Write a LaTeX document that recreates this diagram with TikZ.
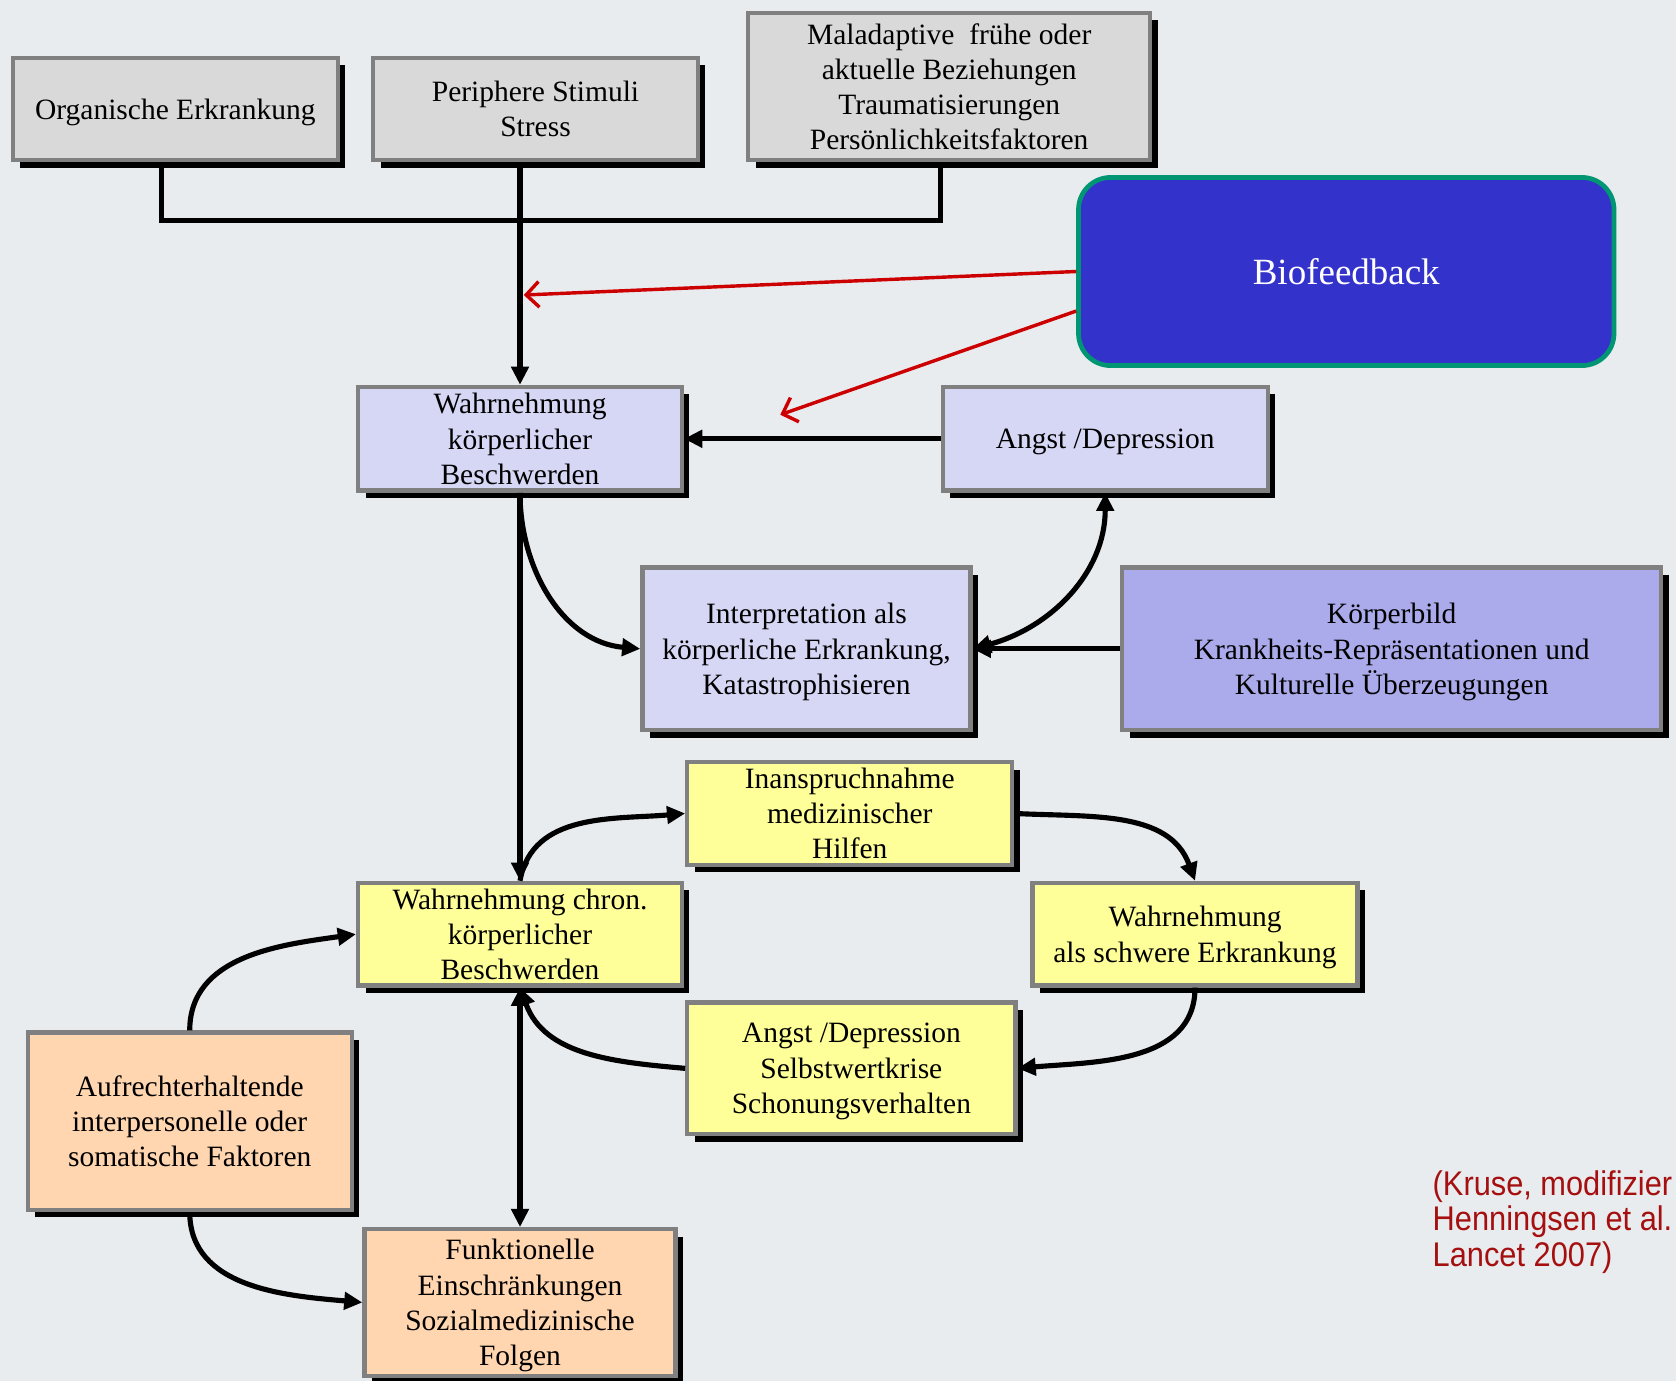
\documentclass[tikz,border=0pt]{standalone}
\usepackage{fontspec}
\setmainfont{Liberation Serif}
\newfontfamily\citefont[FakeStretch=0.9]{Liberation Sans}
\usetikzlibrary{arrows.meta,shadows}

\definecolor{bgcol}{RGB}{233,236,238}
\definecolor{framegray}{RGB}{128,128,128}
\definecolor{greyfill}{RGB}{217,217,217}
\definecolor{lavender}{RGB}{214,214,245}
\definecolor{violetfill}{RGB}{171,171,235}
\definecolor{yellowfill}{RGB}{255,255,153}
\definecolor{peachfill}{RGB}{255,214,176}
\definecolor{bfblue}{RGB}{51,51,204}
\definecolor{bfteal}{RGB}{0,150,115}
\definecolor{bfred}{RGB}{204,0,0}
\definecolor{citered}{RGB}{165,15,15}

\tikzset{
  box/.style={draw=framegray, line width=2pt, inner sep=0pt, align=center,
    text depth=0pt,
    font=\fontsize{13.8}{16.5}\selectfont,
    drop shadow={shadow xshift=3.5pt, shadow yshift=-3.5pt, fill=black, opacity=1}},
  greybox/.style={box, fill=greyfill},
  lavbox/.style={box, fill=lavender},
  violetbox/.style={box, fill=violetfill},
  yellowbox/.style={box, fill=yellowfill},
  peachbox/.style={box, fill=peachfill},
  conn/.style={line width=2.4pt, draw=black},
  arr/.style={conn, -{Triangle[length=8.5pt,width=8pt]}},
  arrboth/.style={conn, {Triangle[length=8.5pt,width=8pt]}-{Triangle[length=8.5pt,width=8pt]}},
  redarr/.style={line width=1.6pt, draw=bfred, -{Straight Barb[length=6pt,width=12pt]}},
  cite/.style={anchor=base west, inner sep=0pt, text=citered,
    font=\citefont\fontsize{16}{17}\selectfont}
}

\begin{document}
\begin{tikzpicture}[x=0.5pt, y=0.5pt]
  % canvas
  \useasboundingbox (0,0) rectangle (1568,-1292);
  \fill[bgcol] (0,0) rectangle (1568,-1292);

  % top row: sources
  \node[greybox, minimum width=152pt, minimum height=48pt] (org) at (164,-102)
    {Organische Erkrankung};
  \node[greybox, minimum width=152pt, minimum height=48pt] (per) at (501,-102)
    {Periphere Stimuli\\Stress};
  \node[greybox, minimum width=188pt, minimum height=69pt] (mal) at (888,-81)
    {Maladaptive\ \ frühe oder\\aktuelle Beziehungen\\Traumatisierungen\\Persönlichkeitsfaktoren};

  % biofeedback
  \node[draw=bfteal, fill=bfblue, line width=2.2pt, rounded corners=15pt,
        minimum width=250.5pt, minimum height=88pt, inner sep=0pt,
        text=white, font=\fontsize{17.3}{20}\selectfont] (bio) at (1259.5,-254)
    {Biofeedback};

  % perception level
  \node[lavbox, minimum width=151.5pt, minimum height=48.5pt] (wk) at (486.5,-410.5)
    {Wahrnehmung\\körperlicher\\Beschwerden};
  \node[lavbox, minimum width=152pt, minimum height=48.5pt] (ang1) at (1034,-410.5)
    {Angst /Depression};
  \node[lavbox, minimum width=153.5pt, minimum height=76pt] (interp) at (754.5,-607)
    {Interpretation als\\körperliche Erkrankung,\\Katastrophisieren};
  \node[violetbox, minimum width=252pt, minimum height=76pt] (koerp) at (1302,-607)
    {Körperbild\\Krankheits-Repräsentationen und\\Kulturelle Überzeugungen};

  % chronic cycle
  \node[yellowbox, minimum width=152pt, minimum height=48pt] (inan) at (795,-761)
    {Inanspruchnahme\\medizinischer\\Hilfen};
  \node[yellowbox, minimum width=151.5pt, minimum height=48pt] (chron) at (486.5,-874)
    {Wahrnehmung chron.\\körperlicher\\Beschwerden};
  \node[yellowbox, minimum width=152pt, minimum height=48pt] (schwer) at (1118,-874)
    {Wahrnehmung\\als schwere Erkrankung};
  \node[yellowbox, minimum width=153.5pt, minimum height=61.5pt] (ang2) at (796.5,-999.5)
    {Angst /Depression\\Selbstwertkrise\\Schonungsverhalten};

  % maintaining factors and consequences
  \node[peachbox, minimum width=151.5pt, minimum height=83pt] (aufr) at (177.5,-1049)
    {Aufrechterhaltende\\interpersonelle oder\\somatische Faktoren};
  \node[peachbox, minimum width=145.5pt, minimum height=68.5pt] (funk) at (486.5,-1218.5)
    {Funktionelle\\Einschränkungen\\Sozialmedizinische\\Folgen};

  % source tree
  \coordinate (bar) at (0,-206);
  \coordinate (orgfoot) at ([xshift=-6.5pt]org.south);
  \coordinate (malfoot) at ([xshift=-4pt]mal.south);
  \draw[conn] (orgfoot) -- (orgfoot |- bar) -| (malfoot);
  \draw[arr] (wk.north |- per.south) -- (wk.north);

  % biofeedback influence
  \coordinate (tipA) at (490,-276);
  \coordinate (tipB) at (730,-388);
  \draw[redarr] (bio.west) -- (tipA);
  \draw[redarr] ([yshift=-18.5pt]bio.west) -- (tipB);

  % perception connectors
  \draw[arr] (ang1.west) -- (wk.east);
  \draw[arr] (wk.south) to[out=-90,in=175] (interp.west);
  \draw[arrboth] (interp.east) to[out=15,in=-90] (ang1.south);
  \draw[arr] (koerp.west) -- (interp.east);
  \draw[arr] (wk.south) -- (chron.north);

  % chronic cycle connectors
  \draw[arr] (chron.north) to[out=80,in=185] (inan.west);
  \draw[arr] (inan.east) to[out=-3,in=110] (schwer.north);
  \draw[arr] (schwer.south) to[out=-90,in=5] (ang2.east);
  \draw[arr] (ang2.west) to[out=175,in=-70] (chron.south);
  \draw[arrboth] (chron.south) -- (funk.north);
  \draw[arr] (aufr.north) to[out=90,in=188] (chron.west);
  \draw[arr] (aufr.south) to[out=-90,in=175] (funk.west);

  % source reference
  \begin{scope}
    \clip (0,0) rectangle (1568,-1292);
    \node[cite] (cite1) at (1340,-1118) {(Kruse, modifizier};
    \node[cite] (cite2) at (1340,-1151) {Henningsen et al.};
    \node[cite] (cite3) at (1340,-1185) {Lancet 2007)};
  \end{scope}
\end{tikzpicture}
\end{document}
